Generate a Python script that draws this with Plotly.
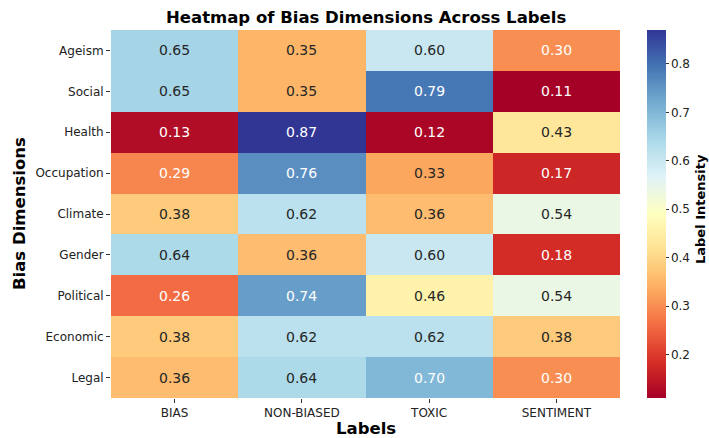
import plotly.graph_objects as go

labels = ["BIAS", "NON-BIASED", "TOXIC", "SENTIMENT"]
dimensions = ["Ageism", "Social", "Health", "Occupation", "Climate", "Gender", "Political", "Economic", "Legal"]
bias = [0.65, 0.65, 0.13, 0.29, 0.38, 0.64, 0.26, 0.38, 0.36]
non_biased = [0.35, 0.35, 0.87, 0.76, 0.62, 0.36, 0.74, 0.62, 0.64]
toxic = [0.60, 0.79, 0.12, 0.33, 0.36, 0.60, 0.46, 0.62, 0.70]
sentiment = [0.30, 0.11, 0.43, 0.17, 0.54, 0.18, 0.54, 0.38, 0.30]
cbar_ticks = [0.2, 0.3, 0.4, 0.5, 0.6, 0.7, 0.8]

cols = [bias, non_biased, toxic, sentiment]
z = [[cols[j][i] for j in range(4)] for i in range(len(dimensions))]

rdylbu = ['rgb(165,0,38)', 'rgb(215,48,39)', 'rgb(244,109,67)', 'rgb(253,174,97)',
          'rgb(254,224,144)', 'rgb(255,255,191)', 'rgb(224,243,248)', 'rgb(171,217,233)',
          'rgb(116,173,209)', 'rgb(69,117,180)', 'rgb(49,54,149)']
cs = [[i / 10, c] for i, c in enumerate(rdylbu)]

zmin, zmax = 0.11, 0.87
W, H = 709, 438
L, R, T, B = 111, 89, 30, 40
pw = W - L - R
ph = H - T - B

FONT = "DejaVu Sans"

fig = go.Figure(go.Heatmap(
    z=z, x=labels, y=dimensions, colorscale=cs, zmin=zmin, zmax=zmax,
    colorbar=dict(
        thickness=19, len=1.0, lenmode="fraction", y=0.5, yanchor="middle",
        x=(647 - L) / pw, xanchor="left", xpad=0, ypad=0, outlinewidth=0,
        tickvals=cbar_ticks, ticktext=[f"{t:.1f}" for t in cbar_ticks],
        ticks="outside", ticklen=3, tickcolor="#333", tickfont=dict(size=12, family=FONT, color="#222"),
    ),
))

annotations = []
for i, d in enumerate(dimensions):
    for j, l in enumerate(labels):
        v = z[i][j]
        color = "white" if (v < 0.31 or v > 0.68) else "#262626"
        annotations.append(dict(x=l, y=d, text=f"{v:.2f}", showarrow=False,
                                font=dict(size=14, family=FONT, color=color)))


def px(xp, yp):
    # pixel (from top-left) -> paper coords
    return (xp - L) / pw, (H - B - yp) / ph


def add_text(text, xp, yp, size, angle=0):
    x, y = px(xp, yp)
    annotations.append(dict(text=text, x=x, y=y, xref="paper", yref="paper", showarrow=False,
                            xanchor="center", yanchor="middle", textangle=angle,
                            font=dict(size=size, family=FONT, color="black")))


add_text("<b>Heatmap of Bias Dimensions Across Labels</b>", L + pw / 2, 17, 16.5)
add_text("<b>Labels</b>", L + pw / 2, 428, 16.5)
add_text("<b>Bias Dimensions</b>", 19, 214, 16.5, -90)
add_text("<b>Label Intensity</b>", 700, 209, 13, -90)

fig.update_layout(
    width=W, height=H,
    margin=dict(l=L, r=R, t=T, b=B, autoexpand=False),
    paper_bgcolor="white", plot_bgcolor="white",
    annotations=annotations,
    font=dict(family=FONT),
)
fig.update_xaxes(automargin=False, ticks="outside", ticklen=4, tickcolor="#333",
                 tickfont=dict(size=12, color="#222"), showgrid=False, zeroline=False)
fig.update_yaxes(automargin=False, ticks="outside", ticklen=4, tickcolor="#333",
                 tickfont=dict(size=12, color="#222"), autorange="reversed",
                 showgrid=False, zeroline=False)

fig.write_html("out.html", config={"displayModeBar": False},
               post_script="document.body.style.margin='0';document.body.style.overflow='hidden';")
